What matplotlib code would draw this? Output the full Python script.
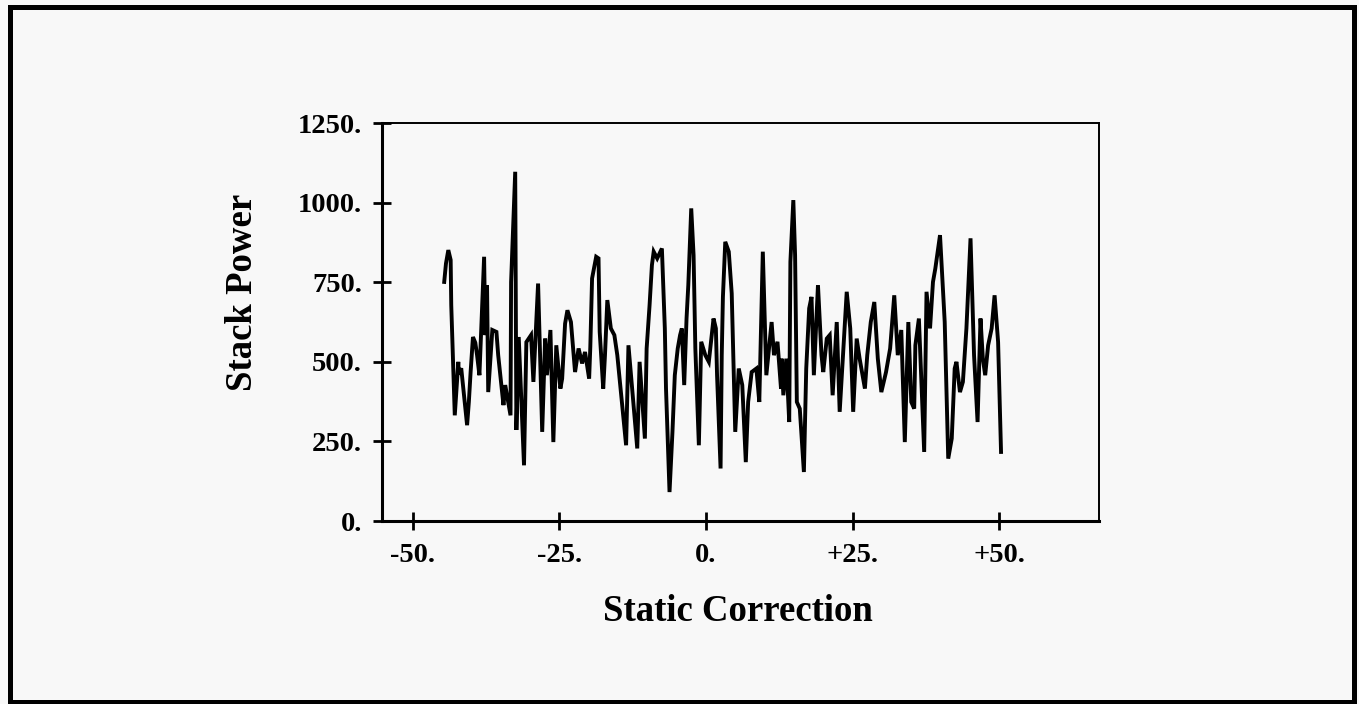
import matplotlib
matplotlib.use('Agg')
import matplotlib.pyplot as plt
from matplotlib.patches import Rectangle

# static shift vs stack power
shift = [-44.6, -44.3, -43.9, -43.5, -43.4, -42.8, -42.2, -42.1, -41.7, -40.7,
         -40.4, -40.1, -39.7, -39.3, -39.0, -38.6, -37.8, -37.6, -37.3, -37.1,
         -36.4, -35.7, -35.4, -34.5, -34.2, -33.5, -33.3, -33.2, -32.5, -32.4,
         -32.3, -31.9, -31.0, -30.6, -29.8, -29.4, -28.6, -27.9, -27.4, -27.1,
         -26.5, -26.0, -25.5, -24.8, -24.5, -24.0, -23.6, -23.0, -22.3, -21.7,
         -21.1, -20.6, -19.9, -19.7, -19.4, -18.7, -18.3, -18.1, -17.5, -17.2,
         -16.8, -16.2, -15.6, -15.1, -13.6, -13.2, -11.7, -11.3, -10.4, -10.1,
         -9.6, -9.2, -8.9, -8.3, -7.5, -7.0, -6.8, -6.2, -5.7, -5.3,
         -4.8, -4.4, -4.1, -3.7, -3.3, -3.0, -2.5, -2.1, -1.8, -1.2,
         -0.8, -0.1, 0.5, 1.3, 1.7, 1.9, 2.5, 2.7, 2.9, 3.3,
         3.9, 4.4, 5.0, 5.6, 6.2, 6.8, 7.2, 7.8, 8.6, 9.1,
         9.7, 10.3, 11.2, 11.6, 12.2, 12.8, 12.9, 13.2, 13.7, 14.2,
         14.4, 14.9, 15.2, 15.5, 16.0, 16.7, 17.1, 17.6, 18.0, 18.4,
         19.1, 19.7, 20.0, 20.6, 21.1, 21.6, 22.3, 22.8, 24.0, 24.6,
         25.1, 25.7, 26.2, 27.1, 27.5, 28.1, 28.7, 29.3, 29.9, 30.7,
         31.4, 32.1, 32.7, 33.3, 33.9, 34.5, 35.0, 35.5, 35.7, 36.3,
         37.2, 37.6, 38.2, 38.7, 39.1, 39.9, 40.7, 41.3, 41.9, 42.4,
         42.7, 43.3, 43.8, 44.4, 45.1, 45.7, 46.3, 46.8, 47.2, 47.6,
         48.1, 48.7, 49.2, 49.8, 50.3]
power = [751, 809, 851, 820, 678, 332, 500, 460, 480, 301,
         374, 468, 578, 560, 521, 458, 830, 584, 741, 405,
         600, 594, 521, 364, 427, 354, 332, 751, 1097, 678,
         286, 578, 175, 562, 584, 437, 746, 280, 573, 458,
         600, 248, 552, 416, 447, 620, 662, 625, 468, 542,
         495, 531, 447, 547, 762, 830, 825, 594, 416, 521,
         694, 605, 584, 521, 238, 552, 228, 500, 259, 542,
         678, 804, 846, 825, 856, 605, 416, 91, 280, 458,
         542, 584, 605, 427, 636, 741, 982, 835, 542, 238,
         563, 521, 500, 636, 605, 458, 165, 521, 704, 877,
         846, 715, 280, 479, 427, 185, 374, 468, 479, 374,
         846, 458, 625, 521, 563, 416, 510, 395, 510, 311,
         814, 1008, 835, 374, 353, 154, 479, 668, 704, 458,
         741, 521, 468, 573, 584, 395, 625, 343, 720, 605,
         343, 573, 510, 416, 521, 625, 688, 510, 405, 468,
         542, 709, 521, 600, 248, 625, 374, 353, 552, 636,
         217, 720, 605, 751, 793, 898, 625, 196, 259, 479,
         500, 405, 437, 605, 888, 521, 311, 636, 510, 458,
         552, 605, 709, 562, 217]

xticks = [-50, -25, 0, 25, 50]
xticklabels = ['-50.', '-25.', '0.', '+25.', '+50.']
yticks = [0, 250, 500, 750, 1000, 1250]
yticklabels = ['0.', '250.', '500.', '750.', '1000.', '1250.']

bg = '#f8f8f8'
font = 'Liberation Serif'

fig = plt.figure(figsize=(13.59, 7.04), dpi=100, facecolor=bg)
ax = fig.add_axes([0.2811, 0.2599, 0.5276, 0.5653], facecolor=bg)

ax.plot(shift, power, color='black', lw=2.8, solid_joinstyle='miter')

ax.set_xlim(-55.2, 67.0)
ax.set_ylim(0, 1250)
ax.set_xticks(xticks)
ax.set_xticklabels(xticklabels)
ax.set_yticks(yticks)
ax.set_yticklabels(yticklabels)
for lab in ax.get_xticklabels() + ax.get_yticklabels():
    lab.set_fontfamily(font)
    lab.set_fontweight('bold')
    lab.set_fontsize(20.5)

ax.tick_params(axis='both', direction='inout', length=13, width=2, color='black')
ax.tick_params(axis='y', pad=8)
ax.tick_params(axis='x', pad=9)

for side in ['left', 'bottom']:
    ax.spines[side].set_linewidth(2.2)
for side in ['top', 'right']:
    ax.spines[side].set_linewidth(1.4)

fig.text(0.543, 0.132, 'Static Correction', ha='center', va='center',
         fontsize=26.5, fontweight='bold', family=font)
fig.text(0.1788, 0.5845, 'Stack Power', ha='center', va='center', rotation=90,
         fontsize=26.5, fontweight='bold', family=font)

# outer frame round the whole page
fig.patches.append(Rectangle((0.007, 0.0035), 0.989, 0.9865, transform=fig.transFigure,
                             fill=False, lw=3.6, edgecolor='black'))

fig.savefig('out.png', dpi=100, facecolor=bg)
